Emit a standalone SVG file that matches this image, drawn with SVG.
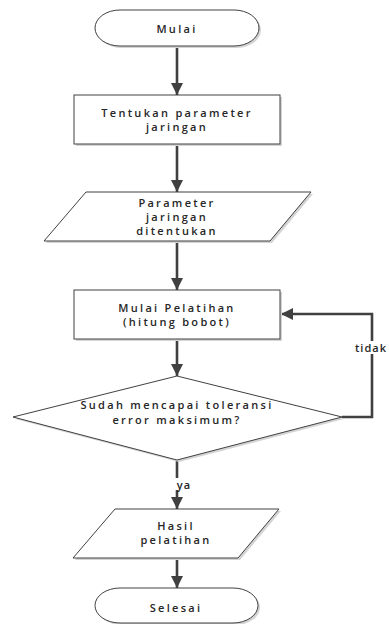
<svg xmlns="http://www.w3.org/2000/svg" xmlns:xlink="http://www.w3.org/1999/xlink" width="389" height="624" viewBox="0 0 389 624">
<defs>
<style>
.shape{fill:#ffffff;stroke:#404040;stroke-width:1}
.shadow{fill:#d4d4d4;stroke:none}
.conn{fill:none;stroke:#404040;stroke-width:2.6}
.lbl{font-family:"Open Sans","DejaVu Sans",sans-serif;font-size:11px;font-weight:600;fill:#262626;text-anchor:middle;letter-spacing:2.3px}
.bg{fill:#ffffff}
</style>
<marker id="arr" markerWidth="14" markerHeight="12" refX="12" refY="6" orient="auto" markerUnits="userSpaceOnUse">
<path d="M0,0 L12,6 L0,12 Z" fill="#404040"/>
</marker>
</defs>
<rect width="389" height="624" fill="#ffffff"/>
<g id="connectors">
<line class="conn" x1="177" y1="46" x2="177" y2="95" marker-end="url(#arr)"/>
<line class="conn" x1="177" y1="144" x2="177" y2="192" marker-end="url(#arr)"/>
<line class="conn" x1="177" y1="241" x2="177" y2="290" marker-end="url(#arr)"/>
<line class="conn" x1="177" y1="339" x2="177" y2="376" marker-end="url(#arr)"/>
<line class="conn" x1="177" y1="460" x2="177" y2="509" marker-end="url(#arr)"/>
<line class="conn" x1="177" y1="558" x2="177" y2="588" marker-end="url(#arr)"/>
<polyline class="conn" points="342,417 372,417 372,314 281,314" marker-end="url(#arr)"/>
<rect class="bg" x="170" y="478" width="24" height="12"/>
<text class="lbl" x="184" y="489" style="letter-spacing:1px">ya</text>
<rect class="bg" x="352" y="341" width="37" height="13"/>
<text class="lbl" x="371" y="352" style="letter-spacing:1px">tidak</text>
</g>
<g id="mulai">
<path class="shadow" d="M122,12 H236 A25,18 0 0 1 236,48 H122 A25,18 0 0 1 122,12 Z"/>
<path class="shape" d="M120,10 H234 A25,18 0 0 1 234,46 H120 A25,18 0 0 1 120,10 Z"/>
<text class="lbl" x="177" y="33">Mulai</text>
</g>
<g id="tentukan">
<rect class="shadow" x="76" y="97" width="206" height="49"/>
<rect class="shape" x="74" y="95" width="206" height="49"/>
<text class="lbl" x="177" y="117">Tentukan parameter</text>
<text class="lbl" x="177" y="131">jaringan</text>
</g>
<g id="parameter">
<polygon class="shadow" points="88,194 313,194 272,243 46,243"/>
<polygon class="shape" points="86,192 311,192 270,241 44,241"/>
<text class="lbl" x="177" y="207">Parameter</text>
<text class="lbl" x="177" y="221">jaringan</text>
<text class="lbl" x="177" y="235">ditentukan</text>
</g>
<g id="pelatihan">
<rect class="shadow" x="76" y="292" width="206" height="49"/>
<rect class="shape" x="74" y="290" width="206" height="49"/>
<text class="lbl" x="177" y="312">Mulai Pelatihan</text>
<text class="lbl" x="177" y="326">(hitung bobot)</text>
</g>
<g id="keputusan">
<polygon class="shadow" points="179,378 344,419 179,462 15,419"/>
<polygon class="shape" points="177,376 342,417 177,460 13,417"/>
<text class="lbl" x="177" y="409">Sudah mencapai toleransi</text>
<text class="lbl" x="177" y="424">error maksimum?</text>
</g>
<g id="hasil">
<polygon class="shadow" points="117,511 281,511 240,560 75,560"/>
<polygon class="shape" points="115,509 279,509 238,558 73,558"/>
<text class="lbl" x="176" y="530">Hasil</text>
<text class="lbl" x="176" y="544">pelatihan</text>
</g>
<g id="selesai">
<path class="shadow" d="M122,590 H235 A25,17.5 0 0 1 235,625 H122 A25,17.5 0 0 1 122,590 Z"/>
<path class="shape" d="M120,588 H233 A25,17.5 0 0 1 233,623 H120 A25,17.5 0 0 1 120,588 Z"/>
<text class="lbl" x="176" y="612">Selesai</text>
</g>
</svg>
